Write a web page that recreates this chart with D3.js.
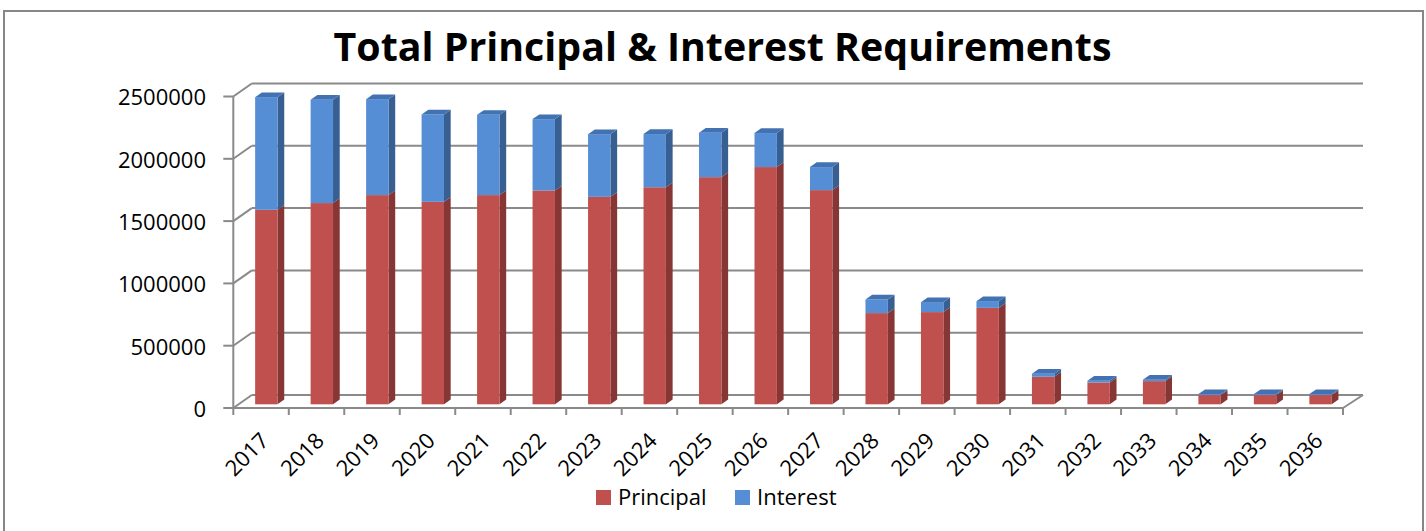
<!DOCTYPE html>
<html>
<head>
<meta charset="utf-8">
<script src="https://cdn.jsdelivr.net/npm/d3@7"></script>
<style>
  html, body { margin: 0; padding: 0; background: #fff; }
  svg { display: block; }
  text { font-family: "Open Sans", "Noto Sans", sans-serif; fill: #000; }
</style>
</head>
<body>
<svg id="chart" width="1426" height="531"></svg>
<script>
// Annual debt service schedule
const years = ["2017","2018","2019","2020","2021","2022","2023","2024","2025","2026",
               "2027","2028","2029","2030","2031","2032","2033","2034","2035","2036"];
const principal = [1561000, 1615000, 1679000, 1625000, 1679000, 1716000, 1665000, 1742000, 1823000, 1904000,
                   1719000, 732000, 740000, 774000, 221000, 175000, 186000, 74000, 74000, 74000];
const interest  = [904000, 829000, 770000, 701000, 644000, 573000, 503000, 427000, 356000, 273000,
                   185000, 109000, 80000, 54000, 24000, 14000, 11000, 8000, 8000, 8000];
const yTicks = [0, 500000, 1000000, 1500000, 2000000, 2500000];
const seriesNames = ["Principal", "Interest"];
const seriesColors = {
  Principal: { front: "#C0504D", side: "#863634", top: "#A8413F" },
  Interest:  { front: "#558ED5", side: "#385F92", top: "#4272B2" }
};

const svg = d3.select("#chart");

// outer chart frame
svg.append("rect")
  .attr("x", 4).attr("y", 11).attr("width", 1419).attr("height", 600)
  .attr("fill", "#fff").attr("stroke", "#878787").attr("stroke-width", 2);

// title
svg.append("text")
  .attr("x", 722.5).attr("y", 61)
  .attr("text-anchor", "middle")
  .attr("font-weight", "bold")
  .attr("font-size", 40)
  .attr("textLength", 778).attr("lengthAdjust", "spacingAndGlyphs")
  .text("Total Principal & Interest Requirements");

// 3D frame geometry: front floor edge and depth offset to the back wall
const frontLeft = 233.3, frontRight = 1343;
const depth = { dx: 18.5, dy: -13 };
const x = d3.scaleBand().domain(years).range([frontLeft, frontRight]);
const y = d3.scaleLinear().domain([0, 2500000]).range([408, 96.5]);

const gridColor = "#8A8A8A";
const frame = svg.append("g").attr("fill", "none").attr("stroke", gridColor).attr("stroke-width", 2);

// back wall gridlines and side wall diagonals
yTicks.forEach(v => {
  const yf = y(v), yb = y(v) + depth.dy;
  frame.append("line")
    .attr("x1", frontLeft + depth.dx).attr("x2", frontRight + depth.dx + 1.5)
    .attr("y1", yb).attr("y2", yb);
  frame.append("line")
    .attr("x1", frontLeft).attr("y1", yf)
    .attr("x2", frontLeft + depth.dx).attr("y2", yb);
});
// side wall front edge
frame.append("line")
  .attr("x1", frontLeft).attr("x2", frontLeft)
  .attr("y1", y(0)).attr("y2", y(2500000));
// floor front edge and right edge
frame.append("line")
  .attr("x1", frontLeft).attr("x2", frontRight)
  .attr("y1", y(0)).attr("y2", y(0));
frame.append("line")
  .attr("x1", frontRight).attr("y1", y(0))
  .attr("x2", frontRight + depth.dx + 1.5).attr("y2", y(0) + depth.dy);

// value axis ticks and labels
const yAxisG = svg.append("g");
yTicks.forEach(v => {
  yAxisG.append("line")
    .attr("x1", frontLeft - 10).attr("x2", frontLeft)
    .attr("y1", y(v)).attr("y2", y(v))
    .attr("stroke", gridColor).attr("stroke-width", 2);
  yAxisG.append("text")
    .attr("x", 206).attr("y", y(v) + 1)
    .attr("dy", "0.36em")
    .attr("text-anchor", "end")
    .attr("font-size", 22)
    .text(d3.format("d")(v));
});

// category axis ticks and rotated labels
const xAxisG = svg.append("g");
d3.range(years.length + 1).forEach(i => {
  const xt = frontLeft + i * x.step();
  xAxisG.append("line")
    .attr("x1", xt).attr("x2", xt)
    .attr("y1", y(0)).attr("y2", y(0) + 7)
    .attr("stroke", gridColor).attr("stroke-width", 2);
});
years.forEach(yr => {
  const cx = x(yr) + x.bandwidth() / 2;
  xAxisG.append("text")
    .attr("transform", `translate(${cx + 9},${442}) rotate(-45)`)
    .attr("text-anchor", "end")
    .attr("font-size", 22)
    .text(yr);
});

// bars: placed on a plane part-way into the depth
const barPlane = { dx: 5.3, dy: -3.7 };
const barDepth = { dx: 6.7, dy: -4.7 };
const barW = 22.4;
const stacked = d3.stack().keys(seriesNames)(
  years.map((yr, i) => ({ year: yr, Principal: principal[i], Interest: interest[i] }))
);

const barsG = svg.append("g");
years.forEach((yr, i) => {
  const xl = x(yr) + x.bandwidth() / 2 - barW / 2 + barPlane.dx;
  const xr = xl + barW;
  stacked.forEach((layer, li) => {
    const seg = layer[i];
    const c = seriesColors[layer.key];
    const yTop = y(seg[1]) + barPlane.dy;
    const yBot = y(seg[0]) + barPlane.dy;
    const g = barsG.append("g");
    // right side face
    g.append("polygon")
      .attr("points", [[xr, yTop], [xr + barDepth.dx, yTop + barDepth.dy],
                       [xr + barDepth.dx, yBot + barDepth.dy], [xr, yBot]].join(" "))
      .attr("fill", c.side);
    // front face
    g.append("rect")
      .attr("x", xl).attr("y", yTop)
      .attr("width", barW).attr("height", Math.max(0, yBot - yTop))
      .attr("fill", c.front);
    // top face on the uppermost segment
    if (li === stacked.length - 1) {
      g.append("polygon")
        .attr("points", [[xl, yTop], [xl + barDepth.dx, yTop + barDepth.dy],
                         [xr + barDepth.dx, yTop + barDepth.dy], [xr, yTop]].join(" "))
        .attr("fill", c.top);
    }
  });
});

// legend
const legend = svg.append("g");
const legendItems = [
  { name: "Principal", x: 596 },
  { name: "Interest", x: 735 }
];
legendItems.forEach(item => {
  legend.append("rect")
    .attr("x", item.x).attr("y", 490)
    .attr("width", 15).attr("height", 15)
    .attr("fill", seriesColors[item.name].front);
  legend.append("text")
    .attr("x", item.x + 22).attr("y", 505)
    .attr("font-size", 22)
    .text(item.name);
});
</script>
</body>
</html>
